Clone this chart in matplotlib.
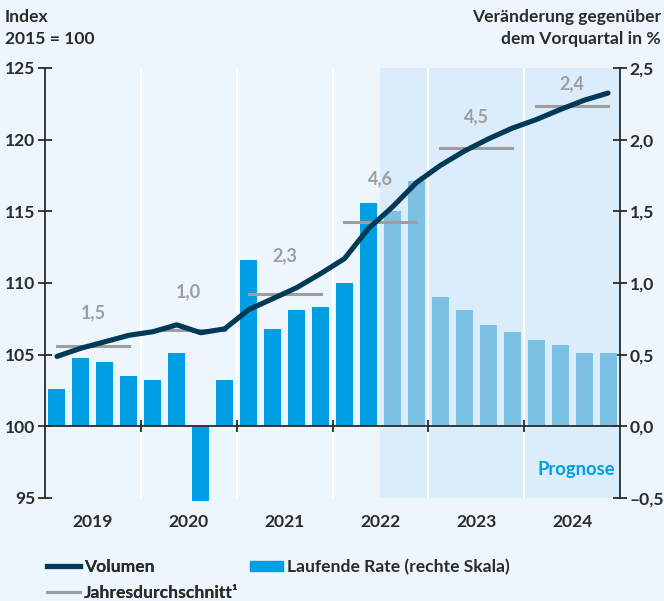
import numpy as np
import matplotlib
matplotlib.use("Agg")
from matplotlib import pyplot as plt
from matplotlib.lines import Line2D
from matplotlib.patches import Patch
from matplotlib.ticker import FixedLocator, FuncFormatter

plt.rcParams["font.family"] = ["Lato", "DejaVu Sans"]
plt.rcParams["font.weight"] = "bold"

# data
years = ["2019", "2020", "2021", "2022", "2023", "2024"]
rate = [0.26, 0.48, 0.45, 0.35,
        0.32, 0.51, -0.52, 0.32,
        1.16, 0.68, 0.81, 0.83,
        1.00, 1.56, 1.50, 1.71,
        0.90, 0.81, 0.71, 0.655,
        0.60, 0.565, 0.51, 0.51]
volume = [104.88, 105.45, 105.9, 106.35,
          106.6, 107.08, 106.53, 106.8,
          108.14, 108.9, 109.67, 110.65,
          111.7, 113.8, 115.3, 117.0,
          118.2, 119.2, 120.05, 120.8,
          121.4, 122.1, 122.75, 123.25]
annual_avg = [105.63, 106.7, 109.25, 114.25, 119.4, 122.36]
annual_rate = ["1,5", "1,0", "2,3", "4,6", "4,5", "2,4"]
label_y = [107.95, 109.37, 111.9, 117.3, 121.6, 123.9]
forecast_start = 14  # 2022 Q3

BG = "#eef6fd"
SHADE = "#dbedfb"
BLUE = "#009fe3"
LIGHT = "#7cc0e4"
NAVY = "#003a57"
GREY = "#9e9e9e"
DARK = "#2b2b2b"
FS = 12.6

fig = plt.figure(figsize=(6.64, 6.01), dpi=100, facecolor=BG)
ax = fig.add_axes([45 / 664, 1 - 498 / 601, 575 / 664, 430 / 601])
ax.set_facecolor(BG)
ax2 = ax.twinx()

n = len(rate)
x = np.arange(n) + 0.5

# forecast area + year separators
ax.axvspan(forecast_start, n, color=SHADE, lw=0, zorder=0)
for b in range(4, n, 4):
    ax.axvline(b, color="white", lw=1.5, zorder=1)

colors = [BLUE if i < forecast_start else LIGHT for i in range(n)]
ax.bar(x, rate, width=0.71, color=colors, zorder=2, clip_on=False)

ax.set_xlim(0, n)
ax.set_ylim(-0.5, 2.5)
ax2.set_ylim(95, 125)

# volume line and annual averages
ax2.plot(x, volume, color=NAVY, lw=3.7, solid_capstyle="round", zorder=4)
for k, (avg, lab, ly) in enumerate(zip(annual_avg, annual_rate, label_y)):
    ax2.plot([4 * k + 0.5, 4 * k + 3.5], [avg, avg], color=GREY, lw=2.2, zorder=3)
    ax2.text(4 * k + 2, ly, lab, color=GREY, fontsize=13, fontweight="bold",
             ha="center", va="center")

ax.text(23.8, -0.3, "Prognose", color=BLUE, fontsize=13.2, fontweight="bold",
        ha="right", va="center")

# spines / ticks
for s in ["top", "left", "bottom"]:
    ax.spines[s].set_visible(False)
for s in ["top", "right", "bottom"]:
    ax2.spines[s].set_visible(False)
ax.spines["bottom"].set_visible(True)
ax.spines["bottom"].set_position(("data", 0))
ax.spines["bottom"].set_color(DARK)
ax.spines["bottom"].set_linewidth(1.3)
ax.spines["bottom"].set_zorder(5)
ax.spines["right"].set_color(DARK)
ax.spines["right"].set_linewidth(1.3)
ax2.spines["left"].set_color(DARK)
ax2.spines["left"].set_linewidth(1.3)

ax.yaxis.tick_right()
ax2.yaxis.tick_left()
ax.set_xticks(range(4, n, 4))
ax.set_xticklabels([])
ax.tick_params(axis="x", direction="inout", length=9, width=1.3, color=DARK)
ax.yaxis.set_major_locator(FixedLocator([-0.5, 0, 0.5, 1.0, 1.5, 2.0, 2.5]))
ax.yaxis.set_major_formatter(FuncFormatter(
    lambda v, p: ("\u2013" if v < 0 else "") + f"{abs(v):.1f}".replace(".", ",")))
ax.tick_params(axis="y", direction="inout", length=10, width=1.3, color=DARK,
               labelsize=FS, labelcolor=DARK, pad=2)
ax2.yaxis.set_major_locator(FixedLocator([95, 100, 105, 110, 115, 120, 125]))
ax2.tick_params(axis="y", direction="inout", length=10, width=1.3, color=DARK,
                labelsize=FS, labelcolor=DARK, pad=2)
for t in ax.get_yticklabels() + ax2.get_yticklabels():
    t.set_fontweight("bold")

for k, yr in enumerate(years):
    ax.text(4 * k + 2, -0.67, yr, ha="center", va="center", fontsize=FS,
            fontweight="bold", color=DARK)

# header texts
fig.text(5 / 664, 1 - 17 / 601, "Index", ha="left", va="center",
         fontsize=FS, fontweight="bold", color=DARK)
fig.text(5 / 664, 1 - 39 / 601, "2015 = 100", ha="left", va="center",
         fontsize=FS, fontweight="bold", color=DARK)
fig.text(661 / 664, 1 - 17 / 601, "Veränderung gegenüber", ha="right", va="center",
         fontsize=FS, fontweight="bold", color=DARK)
fig.text(661 / 664, 1 - 39 / 601, "dem Vorquartal in %", ha="right", va="center",
         fontsize=FS, fontweight="bold", color=DARK)

# legends
h1 = [Line2D([], [], color=NAVY, lw=3.7), Line2D([], [], color=GREY, lw=2.2)]
leg1 = fig.legend(h1, ["Volumen", "Jahresdurchschnitt\u00b9"], loc="upper left",
                  bbox_to_anchor=(40 / 664, 1 - 552 / 601), frameon=False,
                  fontsize=FS, handlelength=1.9, handletextpad=0.22,
                  labelspacing=0.55, borderaxespad=0, labelcolor=DARK)
fig.add_artist(leg1)
h2 = [Patch(color=BLUE)]
fig.legend(h2, ["Laufende Rate (rechte Skala)"], loc="upper left",
           bbox_to_anchor=(243 / 664, 1 - 552 / 601), frameon=False,
           fontsize=FS, handlelength=1.9, handleheight=0.55, handletextpad=0.22,
           borderaxespad=0, labelcolor=DARK)

fig.savefig("out.png", dpi=100, facecolor=BG)
